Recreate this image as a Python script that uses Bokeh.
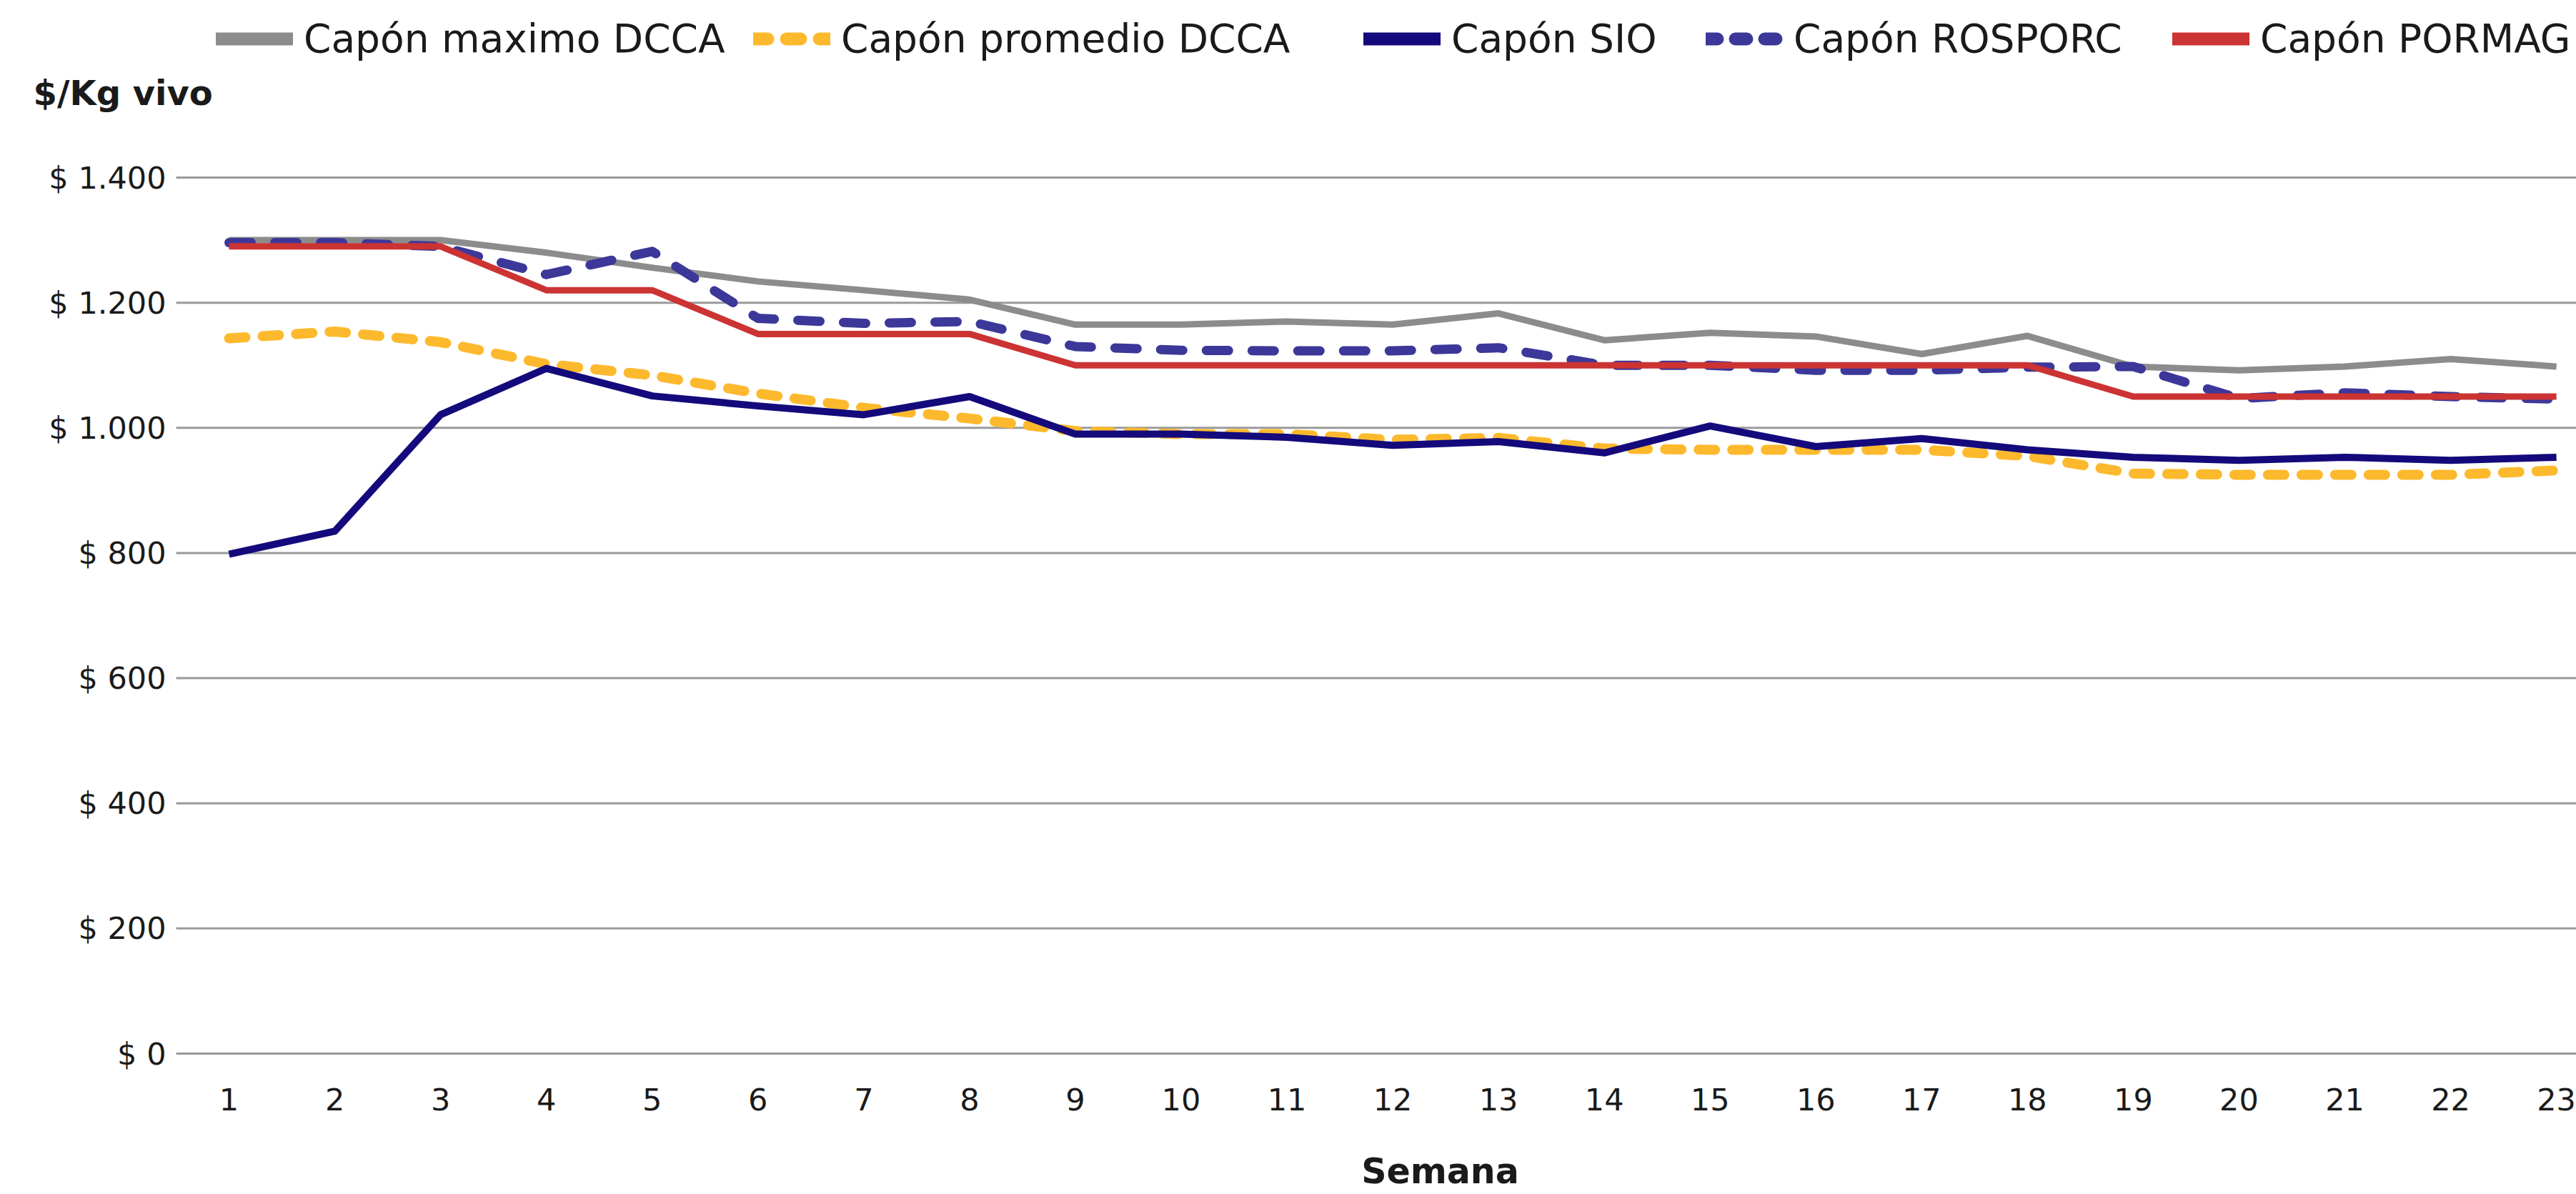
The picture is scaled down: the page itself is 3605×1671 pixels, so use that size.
from bokeh.plotting import figure
from bokeh.models import (ColumnDataSource, Range1d, FixedTicker, Legend, LegendItem,
                          Label, LinearAxis)
from bokeh.embed import file_html
from bokeh.resources import INLINE

weeks = list(range(1, 24))
max_dcca = [1300, 1300, 1300, 1280, 1256, 1234, 1220, 1205, 1165, 1165, 1170, 1165,
            1183, 1140, 1152, 1146, 1118, 1147, 1098, 1092, 1098, 1110, 1098]
prom_dcca = [1143, 1154, 1137, 1102, 1084, 1055, 1032, 1015, 995, 990, 990, 981,
             984, 967, 965, 965, 965, 955, 927, 925, 925, 925, 932]
sio = [798, 835, 1021, 1095, 1051, 1035, 1021, 1050, 990, 990, 985, 972,
       978, 960, 1003, 970, 983, 965, 953, 948, 953, 948, 953]
rosporc = [1296, 1296, 1290, 1245, 1282, 1175, 1167, 1170, 1130, 1124, 1123, 1123,
           1128, 1100, 1100, 1092, 1092, 1097, 1098, 1047, 1056, 1050, 1046]
pormag = [1290, 1290, 1290, 1220, 1220, 1150, 1150, 1150, 1100, 1100, 1100, 1100,
          1100, 1100, 1100, 1100, 1100, 1100, 1050, 1050, 1050, 1050, 1050]

series_names = ["Capón maximo DCCA", "Capón promedio DCCA", "Capón SIO",
                "Capón ROSPORC", "Capón PORMAG"]
y_ticks = [0, 200, 400, 600, 800, 1000, 1200, 1400]
y_tick_labels = {v: "$ " + f"{v:,}".replace(",", ".") for v in y_ticks}

FONT = "DejaVu Sans"
TXT = "#1a1a1a"
W, H = 3605, 1671

# Plot area of the reference: week 0.5 at x=246 px (148.05 px per week);
# value 0 at 197 px above the bottom, 1400 at 248 px below the top.
PX_WEEK = 148.05
PX_VAL = 1226 / 1400
X_START = 0.5 - 246 / PX_WEEK
X_END = X_START + W / PX_WEEK
Y_START = -197 / PX_VAL
Y_END = Y_START + H / PX_VAL
X_PLOT_LEFT, X_PLOT_RIGHT = 0.5, X_END

src = ColumnDataSource(dict(week=weeks, max_dcca=max_dcca, prom_dcca=prom_dcca,
                            sio=sio, rosporc=rosporc, pormag=pormag))
grid_src = ColumnDataSource(dict(y=y_ticks, x0=[X_PLOT_LEFT] * len(y_ticks),
                                 x1=[X_PLOT_RIGHT] * len(y_ticks)))

p = figure(width=W, height=H, output_backend="svg", toolbar_location=None,
           x_range=Range1d(X_START, X_END), y_range=Range1d(Y_START, Y_END),
           x_axis_type=None, y_axis_type=None, title_location=None,
           min_border=0, min_border_left=0, min_border_right=0,
           min_border_top=0, min_border_bottom=0)
p.outline_line_color = None
p.background_fill_color = "white"
p.border_fill_color = "white"
# a range far away from the visible one, for the legend-swatch renderers
p.extra_y_ranges = {"swatch": Range1d(1e7, 1e7 + 1)}

# horizontal grid lines at the y ticks, only across the plot area
p.segment(x0="x0", x1="x1", y0="y", y1="y", source=grid_src,
          line_color="#9a9a9a", line_width=3)

# axes fixed inside the canvas
yax = LinearAxis(fixed_location=X_PLOT_LEFT, ticker=FixedTicker(ticks=y_ticks),
                 major_label_overrides=y_tick_labels)
xax = LinearAxis(fixed_location=0, ticker=FixedTicker(ticks=weeks))
for ax in (xax, yax):
    ax.axis_line_color = None
    ax.major_tick_line_color = None
    ax.minor_tick_line_color = None
    ax.major_tick_out = 0
    ax.major_tick_in = 0
    ax.major_label_text_font = FONT
    ax.major_label_text_color = TXT
yax.major_label_text_font_size = "43px"
xax.major_label_text_font_size = "43px"
yax.major_label_standoff = 14
xax.major_label_standoff = 48
p.add_layout(yax, "left")
p.add_layout(xax, "below")

styles = [
    dict(col="max_dcca", color="#8c8c8c", w=9, dash="solid", ldash="solid"),
    dict(col="prom_dcca", color="#fdb92d", w=14, dash="23 24", ldash="20 26"),
    dict(col="sio", color="#140a7c", w=10, dash="solid", ldash="solid"),
    dict(col="rosporc", color="#3c3899", w=13, dash="31 33", ldash="16 25"),
    dict(col="pormag", color="#cc3333", w=9, dash="solid", ldash="solid"),
]
for s in styles:
    cap = "butt" if s["dash"] == "solid" else "round"
    p.line("week", s["col"], source=src, line_color=s["color"], line_width=s["w"],
           line_dash=s["dash"], line_cap=cap, line_join="round")

# legend: swatches come from the same series drawn on the far-away range,
# so the legend can show a thicker swatch than the plotted line
legend_left = [302, 1054, 1908, 2387, 3040]
for name, s, lx in zip(series_names, styles, legend_left):
    r = p.line("week", s["col"], source=src, y_range_name="swatch",
               line_color=s["color"], line_width=18, line_dash=s["ldash"],
               line_cap="round")
    lg = Legend(items=[LegendItem(label=name, renderers=[r])], location=(lx, 1585),
                orientation="horizontal", padding=0, margin=0, spacing=0,
                glyph_width=108, glyph_height=40, label_standoff=15,
                label_text_font=FONT, label_text_font_size="55px",
                label_text_color=TXT, label_text_baseline="middle",
                border_line_color=None, background_fill_alpha=0)
    p.add_layout(lg, "center")

p.add_layout(Label(x=46, y=1542, x_units="screen", y_units="screen", text="$/Kg vivo",
                   text_font=FONT, text_font_size="48px", text_font_style="bold",
                   text_color=TXT, text_baseline="middle", text_align="left"))
p.add_layout(Label(x=2015, y=32, x_units="screen", y_units="screen", text="Semana",
                   text_font=FONT, text_font_size="49px", text_font_style="bold",
                   text_color=TXT, text_baseline="middle", text_align="center"))

open("out.html", "w").write(file_html(p, INLINE))
